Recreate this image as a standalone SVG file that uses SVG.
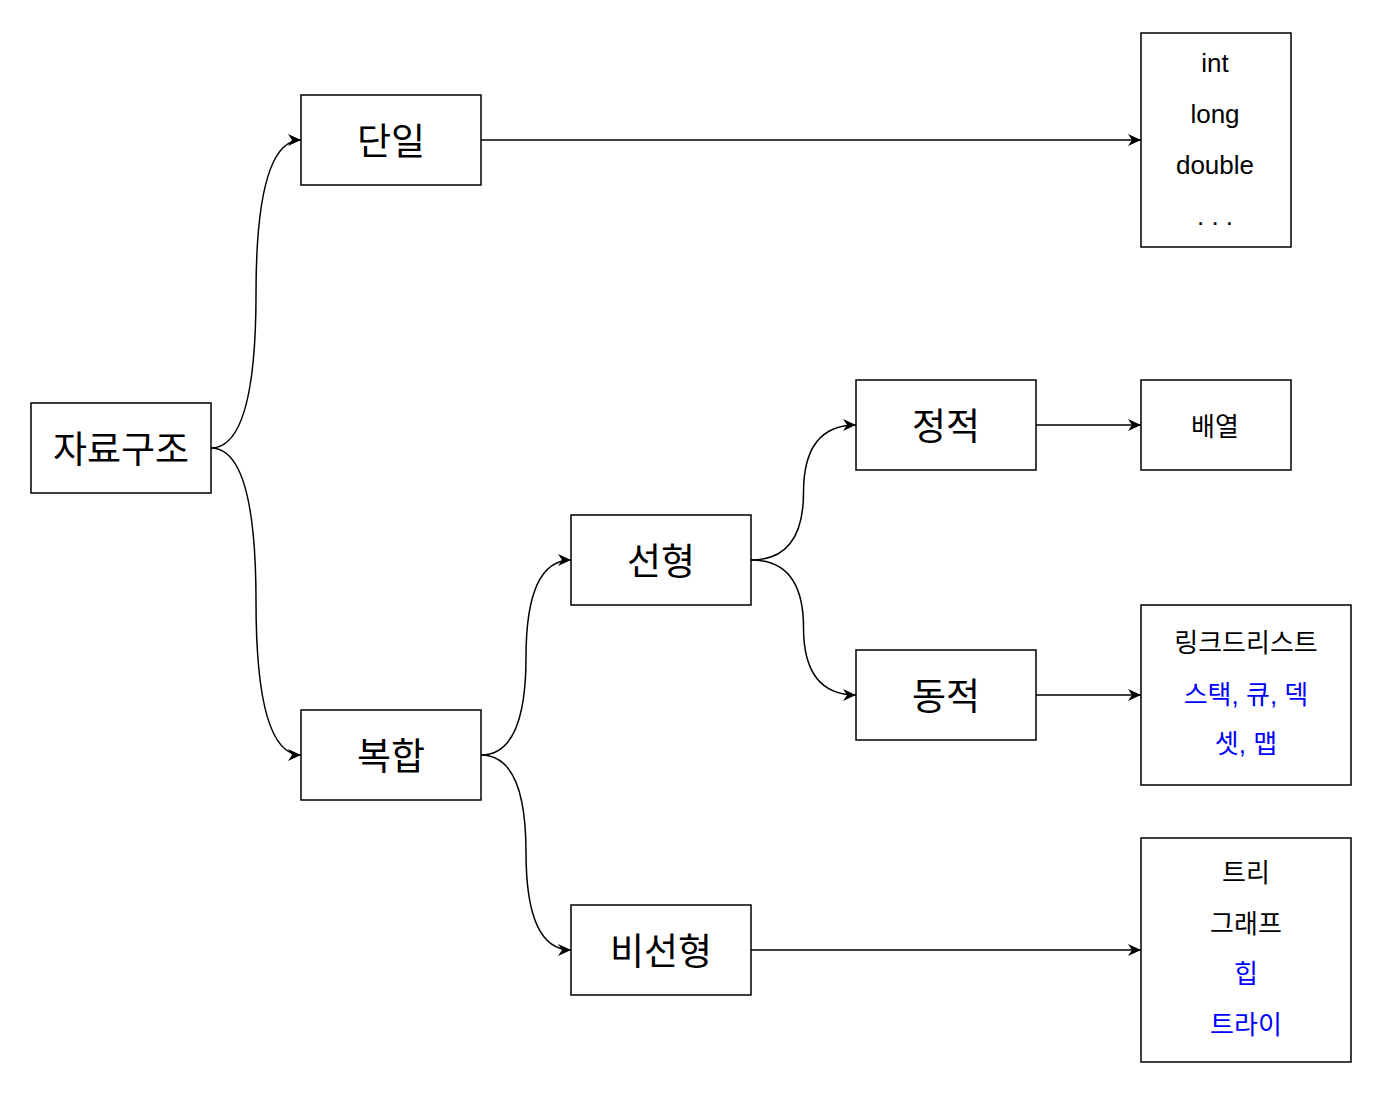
<svg xmlns="http://www.w3.org/2000/svg" width="1382" height="1094" viewBox="0 0 1382 1094">
<style>
.box{fill:#fff;stroke:#000;stroke-width:1.5}
.t{font-family:"Liberation Sans","Noto Sans CJK KR",sans-serif;text-anchor:middle;fill:#000}
.big{font-size:37px}
.sm{font-size:26px}
.blue{fill:#0000ff}
.edge{fill:none;stroke:#000;stroke-width:1.5}
</style>
<defs>
<marker id="arr" markerUnits="userSpaceOnUse" markerWidth="14" markerHeight="12" refX="13" refY="6" orient="auto">
<path d="M0,0 L13,6 L0,12 L4,6 Z" fill="#000"/>
</marker>
</defs>
<rect width="1382" height="1094" fill="#fff"/>
<g id="connectors">
<path class="edge" marker-end="url(#arr)" d="M211,448 Q256,448 256,294 Q256,140 301,140"/>
<path class="edge" marker-end="url(#arr)" d="M211,448 Q256,448 256,601.5 Q256,755 301,755"/>
<path class="edge" marker-end="url(#arr)" d="M481,140 L1141,140"/>
<path class="edge" marker-end="url(#arr)" d="M481,755 Q526,755 526,657.5 Q526,560 571,560"/>
<path class="edge" marker-end="url(#arr)" d="M481,755 Q526,755 526,852.5 Q526,950 571,950"/>
<path class="edge" marker-end="url(#arr)" d="M751,560 Q803.5,560 803.5,492.5 Q803.5,425 856,425"/>
<path class="edge" marker-end="url(#arr)" d="M751,560 Q803.5,560 803.5,627.5 Q803.5,695 856,695"/>
<path class="edge" marker-end="url(#arr)" d="M1036,425 L1141,425"/>
<path class="edge" marker-end="url(#arr)" d="M1036,695 L1141,695"/>
<path class="edge" marker-end="url(#arr)" d="M751,950 L1141,950"/>
</g>
<g id="n-root"><rect class="box" x="31" y="403" width="180" height="90"/><text class="t big" x="121" y="463">자료구조</text></g>
<g id="n-single"><rect class="box" x="301" y="95" width="180" height="90"/><text class="t big" x="391" y="155">단일</text></g>
<g id="n-compound"><rect class="box" x="301" y="710" width="180" height="90"/><text class="t big" x="391" y="770">복합</text></g>
<g id="n-linear"><rect class="box" x="571" y="515" width="180" height="90"/><text class="t big" x="661" y="575">선형</text></g>
<g id="n-nonlinear"><rect class="box" x="571" y="905" width="180" height="90"/><text class="t big" x="661" y="965">비선형</text></g>
<g id="n-static"><rect class="box" x="856" y="380" width="180" height="90"/><text class="t big" x="946" y="440">정적</text></g>
<g id="n-dynamic"><rect class="box" x="856" y="650" width="180" height="90"/><text class="t big" x="946" y="710">동적</text></g>
<g id="n-primitive"><rect class="box" x="1141" y="33" width="150" height="214"/>
<text class="t sm" x="1215" y="72">int</text>
<text class="t sm" x="1215" y="123">long</text>
<text class="t sm" x="1215" y="174">double</text>
<text class="t sm" x="1215" y="225">. . .</text></g>
<g id="n-array"><rect class="box" x="1141" y="380" width="150" height="90"/><text class="t sm" x="1215" y="436">배열</text></g>
<g id="n-dyn-list"><rect class="box" x="1141" y="605" width="210" height="180"/>
<text class="t sm" x="1246" y="652">링크드리스트</text>
<text class="t sm blue" x="1246" y="704">스택, 큐, 덱</text>
<text class="t sm blue" x="1246" y="753">셋, 맵</text></g>
<g id="n-nonlin-list"><rect class="box" x="1141" y="838" width="210" height="224"/>
<text class="t sm" x="1246" y="882">트리</text>
<text class="t sm" x="1246" y="933">그래프</text>
<text class="t sm blue" x="1246" y="983">힙</text>
<text class="t sm blue" x="1246" y="1034">트라이</text></g>
</svg>
